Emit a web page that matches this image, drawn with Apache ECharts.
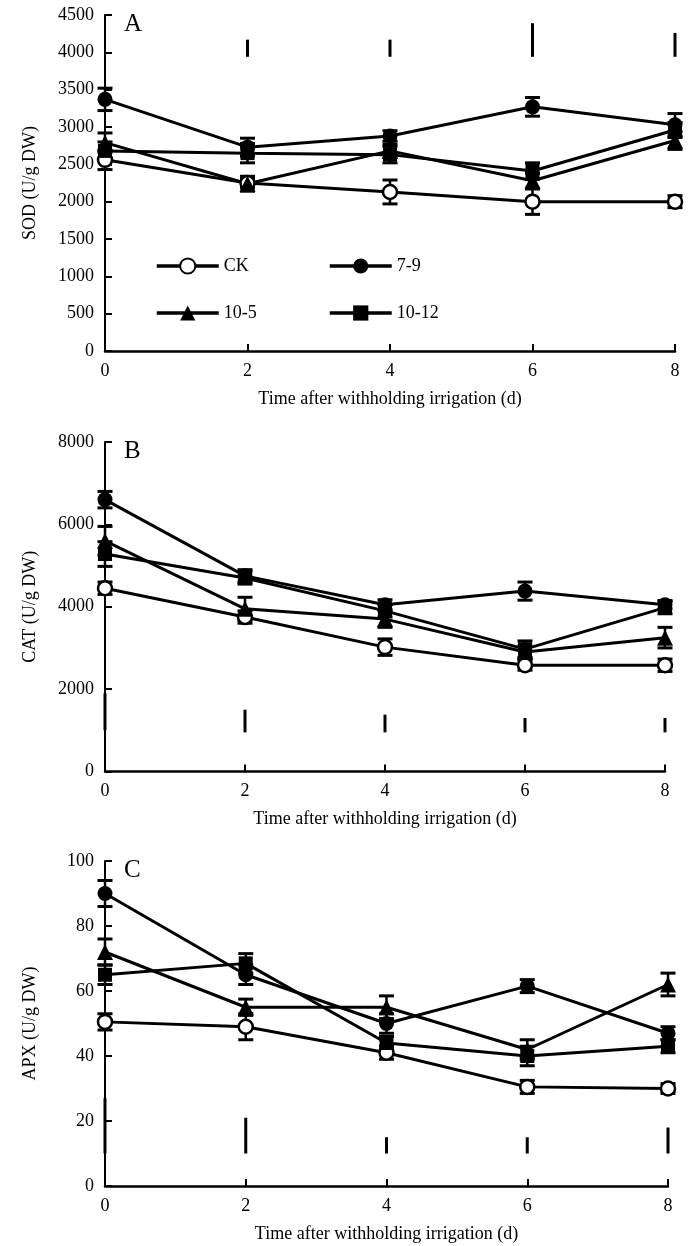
<!DOCTYPE html>
<html><head><meta charset="utf-8">
<script src="https://cdn.jsdelivr.net/npm/echarts@6/dist/echarts.min.js"></script>
<style>html,body{margin:0;padding:0;background:#fff}#c{width:698px;height:1246px}</style>
</head><body><div id="c"></div>
<script>
// ---------- data ----------
const days = [0, 2, 4, 6, 8];
const groupNames = ['CK', '7-9', '10-5', '10-12'];
const xTicks = [0, 2, 4, 6, 8];

// SOD (U/g DW)
const sodCK   = [2560, 2250, 2130, 2000, 2000];
const sodCKsd = [130, 60, 160, 170, 80];
const sod79   = [3370, 2730, 2880, 3270, 3030];
const sod79sd = [150, 120, 70, 125, 150];
const sod105  = [2790, 2240, 2680, 2280, 2820];
const sod105sd = [130, 100, 90, 100, 120];
const sod1012 = [2680, 2650, 2630, 2410, 2960];
const sod1012sd = [120, 130, 110, 110, 100];
const sodLsd = [null, [3940, 4170], [3940, 4170], [3940, 4390], [3940, 4260]];

// CAT (U/g DW)
const catCK   = [4450, 3750, 3020, 2580, 2580];
const catCKsd = [150, 150, 200, 120, 150];
const cat79   = [6600, 4750, 4050, 4380, 4050];
const cat79sd = [200, 150, 120, 220, 100];
const cat105  = [5600, 3950, 3700, 2900, 3250];
const cat105sd = [350, 280, 200, 150, 250];
const cat1012 = [5280, 4700, 3900, 2970, 3980];
const cat1012sd = [300, 150, 150, 200, 150];
const catLsd = [[1000, 1900], [950, 1500], [950, 1380], [950, 1300], [950, 1300]];

// APX (U/g DW)
const apxCK   = [50.5, 49, 41, 30.5, 30];
const apxCKsd = [2.5, 4, 2, 2, 1.5];
const apx79   = [90, 65, 50, 61.5, 47];
const apx79sd = [4, 3, 3, 2, 2];
const apx105  = [72, 55, 55, 42, 62];
const apx105sd = [4, 2.5, 3.5, 3, 3.5];
const apx1012 = [65, 68.5, 44, 40, 43];
const apx1012sd = [3, 3, 2, 3, 2];
const apxLsd = [[10, 27], [10, 21], [10, 15], [10, 15], [10, 18]];

const panels = [
  {letter: 'A', yName: 'SOD (U/g DW)', yMax: 4500, yInt: 500,
   means: [sodCK, sod79, sod105, sod1012], sds: [sodCKsd, sod79sd, sod105sd, sod1012sd], lsd: sodLsd},
  {letter: 'B', yName: 'CAT (U/g DW)', yMax: 8000, yInt: 2000,
   means: [catCK, cat79, cat105, cat1012], sds: [catCKsd, cat79sd, cat105sd, cat1012sd], lsd: catLsd},
  {letter: 'C', yName: 'APX (U/g DW)', yMax: 100, yInt: 20,
   means: [apxCK, apx79, apx105, apx1012], sds: [apxCKsd, apx79sd, apx105sd, apx1012sd], lsd: apxLsd}
];

// ---------- layout / style ----------
const grids = [
  {left: 105, right: 23, top: 15, height: 336},
  {left: 105, right: 33, top: 442, height: 329.5},
  {left: 105, right: 30, top: 861, height: 325}
];
const FONT = '"Liberation Serif", "Times New Roman", serif';
const symbols = [
  {symbol: 'circle', size: 14, itemStyle: {color: '#fff', borderColor: '#000', borderWidth: 2.5}},
  {symbol: 'circle', size: 15, itemStyle: {color: '#000', borderColor: '#000', borderWidth: 0}},
  {symbol: 'triangle', size: 16, itemStyle: {color: '#000', borderColor: '#000', borderWidth: 0}},
  {symbol: 'rect', size: 14, itemStyle: {color: '#000', borderColor: '#000', borderWidth: 0}}
];

function errRender(params, api) {
  const x = api.value(0), m = api.value(1), s = api.value(2);
  const t = api.coord([x, m + s]), b = api.coord([x, m - s]);
  const hw = 7.5;
  const st = {stroke: '#000', lineWidth: 2.5};
  return {type: 'group', children: [
    {type: 'line', shape: {x1: t[0], y1: t[1], x2: b[0], y2: b[1]}, style: st},
    {type: 'line', shape: {x1: t[0] - hw, y1: t[1], x2: t[0] + hw, y2: t[1]}, style: {stroke: '#000', lineWidth: 3}},
    {type: 'line', shape: {x1: b[0] - hw, y1: b[1], x2: b[0] + hw, y2: b[1]}, style: {stroke: '#000', lineWidth: 3}}
  ]};
}
function lsdRender(params, api) {
  const x = api.value(0), lo = api.value(1), hi = api.value(2);
  const a = api.coord([x, hi]), b = api.coord([x, lo]);
  return {type: 'line', shape: {x1: a[0], y1: a[1], x2: b[0], y2: b[1]}, style: {stroke: '#000', lineWidth: 3}};
}

const option = {
  animation: false,
  backgroundColor: '#fff',
  grid: grids.map(g => Object.assign({containLabel: false}, g)),
  xAxis: panels.map((p, i) => ({
    type: 'value', gridIndex: i, min: xTicks[0], max: xTicks[xTicks.length - 1], interval: 2,
    name: 'Time after withholding irrigation (d)', nameLocation: 'middle', nameGap: 39,
    nameMoveOverlap: false,
    nameTextStyle: {fontFamily: FONT, fontSize: 18, color: '#000'},
    axisLine: {show: true, onZero: false, lineStyle: {color: '#000', width: 2.5}},
    axisTick: {show: true, inside: true, length: 7, lineStyle: {color: '#000', width: 2}},
    axisLabel: {fontFamily: FONT, fontSize: 18, color: '#000', margin: 11, formatter: v => String(v)},
    splitLine: {show: false}
  })),
  yAxis: panels.map((p, i) => ({
    type: 'value', gridIndex: i, min: 0, max: p.yMax, interval: p.yInt,
    name: p.yName, nameLocation: 'middle', nameGap: 66, nameRotate: 90,
    nameMoveOverlap: false,
    nameTextStyle: {fontFamily: FONT, fontSize: 18, color: '#000'},
    axisLine: {show: true, lineStyle: {color: '#000', width: 2}},
    axisTick: {show: true, inside: true, length: 7, lineStyle: {color: '#000', width: 2}},
    axisLabel: {fontFamily: FONT, fontSize: 18, color: '#000', margin: 11, formatter: v => String(v)},
    splitLine: {show: false}
  })),
  legend: [
    {left: 150, top: 252},
    {left: 323, top: 252},
    {left: 150, top: 299},
    {left: 323, top: 299}
  ].map((pos, k) => Object.assign({
    data: [groupNames[k]], itemWidth: 62, itemHeight: 19, itemGap: 0,
    lineStyle: {width: 3.5, color: '#000'},
    textStyle: {fontFamily: FONT, fontSize: 18, color: '#000'},
    selectedMode: false
  }, pos)),
  graphic: panels.map((p, i) => ({
    type: 'text', left: grids[i].left + 19, top: grids[i].top - 3,
    style: {text: p.letter, font: '25px ' + FONT, fill: '#000'}
  })),
  series: []
};

panels.forEach((p, i) => {
  // LSD bars
  option.series.push({
    type: 'custom', xAxisIndex: i, yAxisIndex: i, renderItem: lsdRender, clip: false, z: 1,
    data: p.lsd.map((v, k) => v ? [days[k], v[0], v[1]] : null).filter(d => d)
  });
  groupNames.forEach((name, g) => {
    option.series.push({
      type: 'custom', xAxisIndex: i, yAxisIndex: i, renderItem: errRender, clip: false, z: 2,
      data: days.map((d, k) => [d, p.means[g][k], p.sds[g][k]])
    });
    option.series.push({
      type: 'line', name: name, xAxisIndex: i, yAxisIndex: i, z: 3,
      symbol: symbols[g].symbol, symbolSize: symbols[g].size, showAllSymbol: true,
      itemStyle: symbols[g].itemStyle,
      lineStyle: {color: '#000', width: 3},
      data: days.map((d, k) => [d, p.means[g][k]])
    });
  });
});

const chart = echarts.init(document.getElementById('c'), null, {renderer: 'canvas'});
chart.setOption(option);
</script>
</body></html>
